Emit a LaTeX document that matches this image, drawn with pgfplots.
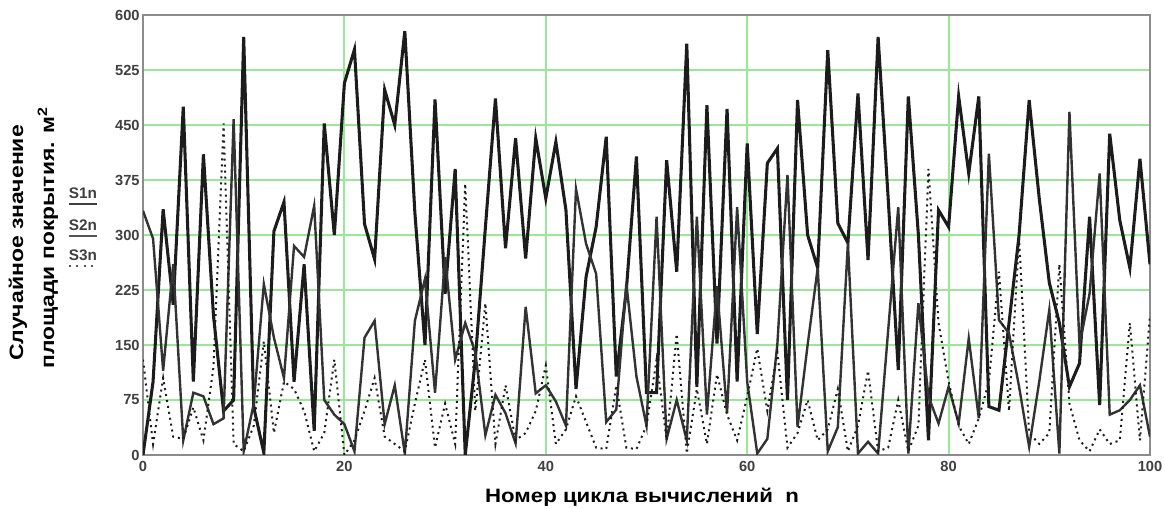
\documentclass[border=0pt]{standalone}
\usepackage{pgfplots}
\pgfplotsset{compat=1.18}
\usepackage{pgfplotstable}
\usepackage{fontspec}
\setmainfont{Liberation Sans}
\definecolor{gridg}{HTML}{98E898}
\definecolor{linek}{HTML}{1C1C1C}
\definecolor{framec}{HTML}{8C8C8C}
\pgfplotstableread{
n S1 S2 S3
0 0 333 130
1 100 295 15
2 335 115 105
3 205 260 25
4 475 20 22
5 100 85 65
6 410 80 20
7 190 42 120
8 60 50 452
9 75 458 15
10 570 5 5
11 65 70 40
12 3 233 155
13 305 160 30
14 345 105 100
15 100 285 90
16 260 270 60
17 33 340 5
18 452 75 30
19 300 55 130
20 507 42 0
21 553 5 20
22 315 160 60
23 267 183 105
24 498 42 25
25 450 95 15
26 578 2 5
27 330 183 70
28 150 240 130
29 485 85 10
30 220 270 70
31 390 130 15
32 0 180 370
33 130 140 60
34 310 27 207
35 486 82 15
36 282 57 95
37 432 16 20
38 268 202 30
39 432 84 60
40 350 95 122
41 427 73 15
42 334 40 35
43 90 363 80
44 243 288 45
45 311 247 10
46 434 45 8
47 107 62 95
48 225 234 10
49 407 107 8
50 85 40 40
51 85 325 130
52 402 22 20
53 250 75 165
54 561 20 2
55 93 325 90
56 477 55 15
57 152 230 110
58 472 57 55
59 100 338 20
60 425 100 80
61 165 2 145
62 398 22 60
63 418 152 140
64 75 382 10
65 484 38 30
66 300 150 75
67 255 255 20
68 552 5 35
69 316 38 90
70 289 289 5
71 493 2 40
72 266 18 115
73 570 2 5
74 350 170 10
75 116 338 75
76 489 2 5
77 300 207 40
78 20 80 390
79 334 43 180
80 311 93 100
81 489 43 40
82 384 159 15
83 489 50 50
84 66 411 100
85 61 184 250
86 180 166 60
87 300 93 295
88 484 11 30
89 350 100 15
90 235 198 30
91 180 2 260
92 93 468 70
93 125 150 20
94 325 220 5
95 68 384 35
96 438 55 15
97 320 61 20
98 255 75 180
99 404 95 20
100 260 25 190
}\datatable
\begin{document}
\begin{tikzpicture}[x=0.75pt,y=0.75pt]
\path[use as bounding box] (0,0) rectangle (1165,509);
\begin{axis}[
  at={(107.25pt,40.5pt)}, anchor=south west,
  scale only axis, width=755.25pt, height=330pt,
  xmin=0, xmax=100, ymin=0, ymax=600,
  xtick={0,20,40,60,80,100},
  ytick={0,75,150,225,300,375,450,525,600},
  grid=major,
  major grid style={gridg, line width=1.4pt},
  axis line style={framec, line width=1.5pt},
  tick style={draw=none},
  tick label style={font=\fontsize{11}{12}\selectfont\bfseries, text=black!75},
  /pgf/number format/assume math mode=true,
  xticklabel style={yshift=-1pt},
  yticklabel style={xshift=1pt},
  clip=true,
]
\addplot[linek, line width=2.3pt, line join=miter, miter limit=10] table[x=n,y=S1] {\datatable};
\addplot[linek!90, line width=1.8pt, line join=miter, miter limit=10] table[x=n,y=S2] {\datatable};
\addplot[linek, line width=1.5pt, dash pattern=on 1.5pt off 3pt] table[x=n,y=S3] {\datatable};
\end{axis}
\node[font=\fontsize{14.5}{16}\selectfont\bfseries, anchor=center] at (642,12) {\scalebox{1.15}[1]{Номер цикла вычислений\ \ n}};
\node[font=\fontsize{14.5}{16}\selectfont\bfseries, rotate=90] at (18,266) {\scalebox{1.19}[1]{Случайное значение}};
\node[font=\fontsize{14.5}{16}\selectfont\bfseries, rotate=90] at (48,271) {\scalebox{1.18}[1]{площади покрытия. м$^{\mathbf{2}}$}};
\node[font=\fontsize{11.5}{13}\selectfont\bfseries, text=black!75] at (83,316) {S1n};
\draw[linek!85, line width=2.2pt] (69,305) -- (97,305);
\node[font=\fontsize{11.5}{13}\selectfont\bfseries, text=black!75] at (83,284) {S2n};
\draw[linek!75, line width=1.8pt] (69,273) -- (97,273);
\node[font=\fontsize{11.5}{13}\selectfont\bfseries, text=black!75] at (83,254) {S3n};
\draw[linek!75, line width=1.5pt, dash pattern=on 1.5pt off 4pt] (69,243) -- (97,243);
\end{tikzpicture}
\end{document}
